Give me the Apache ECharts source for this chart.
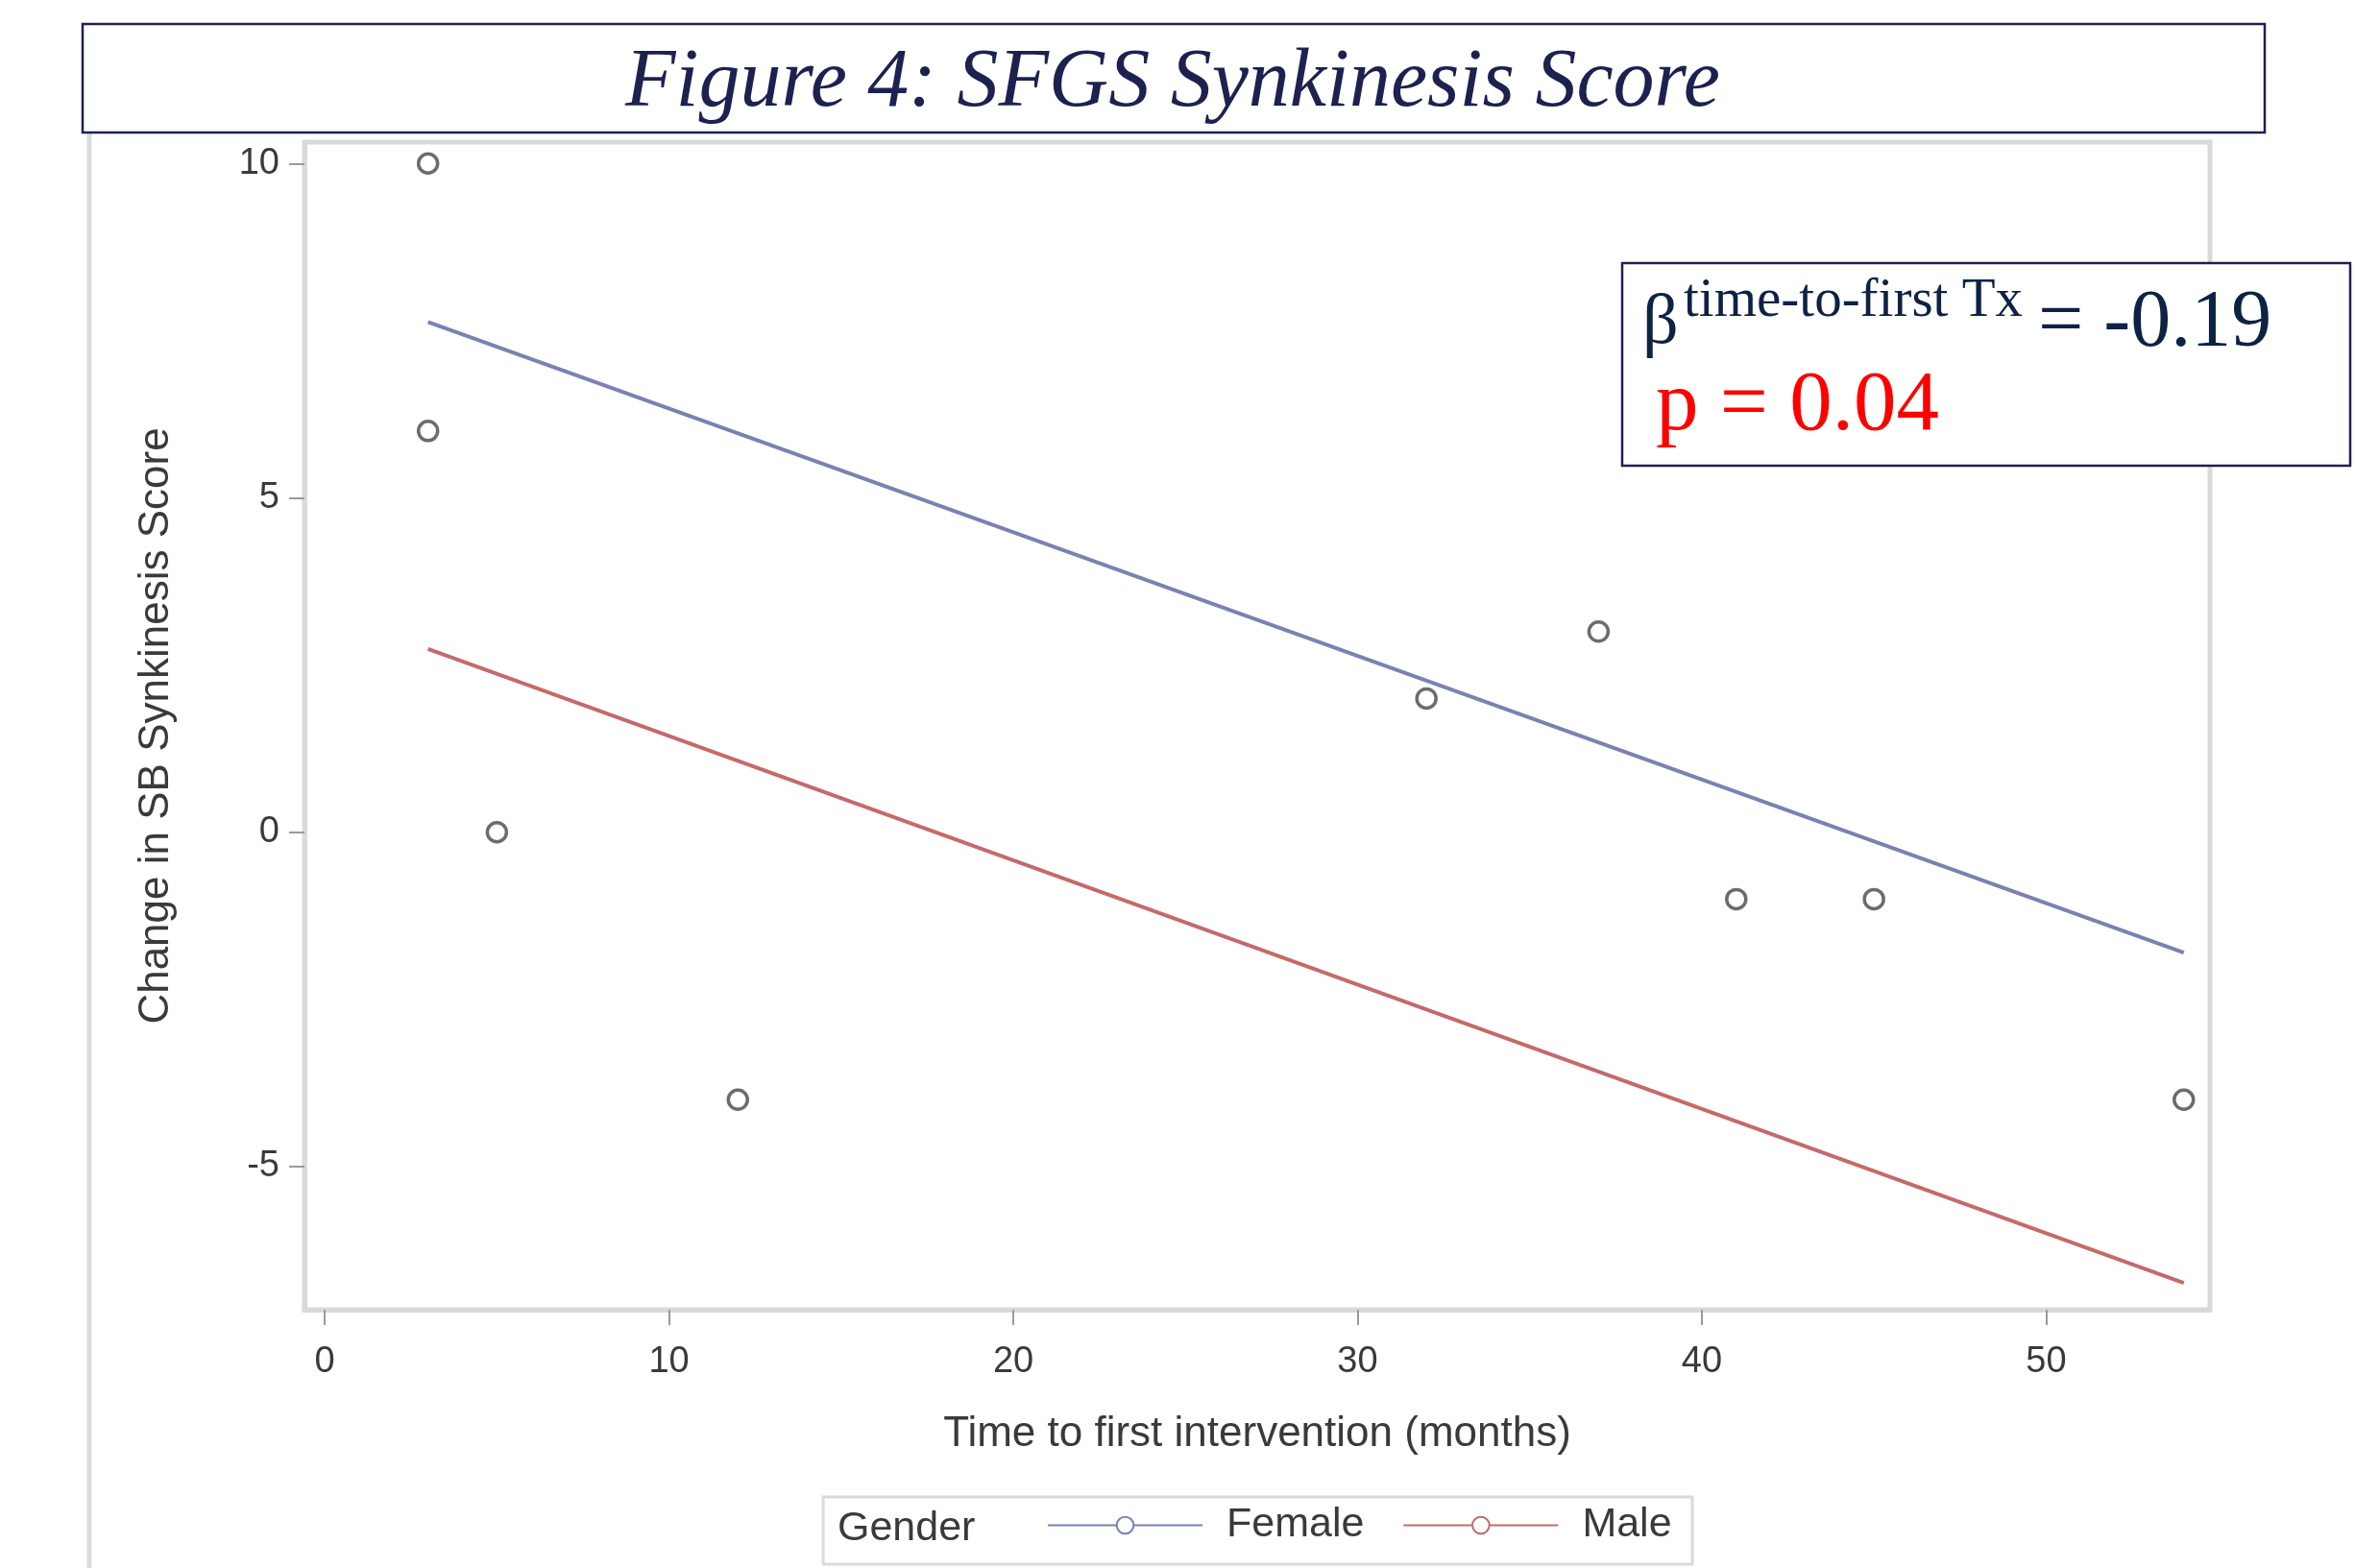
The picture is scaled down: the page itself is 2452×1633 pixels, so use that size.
<!DOCTYPE html>
<html>
<head>
<meta charset="utf-8">
<script src="https://cdn.jsdelivr.net/npm/echarts@6/dist/echarts.min.js"></script>
<style>
html,body{margin:0;padding:0;background:#fff;}
#chart{width:2452px;height:1633px;}
</style>
</head>
<body>
<div id="chart"></div>
<script>
// ---- data ----
const monthsX = [3, 3, 5, 12, 32, 37, 41, 45, 54];
const scoreChange = [10, 6, 0, -4, 2, 3, -1, -1, -4];
const fitX = [3, 54];
const femaleFit = [7.63, -1.80];
const maleFit = [2.74, -6.74];
const xTicks = [0, 10, 20, 30, 40, 50];
const yTicks = [-5, 0, 5, 10];
const seriesNames = ['Female', 'Male'];
const titleText = 'Figure 4: SFGS Synkinesis Score';
const xName = 'Time to first intervention (months)';
const yName = 'Change in SB Synkinesis Score';
const legendTitle = 'Gender';
const betaSup = 'time-to-first Tx';
const betaValue = '= -0.19';
const pText = 'p = 0.04';

const points = monthsX.map((x, i) => [x, scoreChange[i]]);
const femaleLine = fitX.map((x, i) => [x, femaleFit[i]]);
const maleLine = fitX.map((x, i) => [x, maleFit[i]]);

const chart = echarts.init(document.getElementById('chart'));
const sans = 'Liberation Sans, Arial, sans-serif';
const serif = 'Liberation Serif, Times New Roman, serif';
const navy = '#1c2150';

chart.setOption({
  backgroundColor: '#ffffff',
  animation: false,
  textStyle: { fontFamily: sans },
  grid: {
    left: 317, right: 151, top: 148, bottom: 269,
    show: true, borderColor: '#d9d9d9', borderWidth: 5
  },
  xAxis: {
    type: 'value',
    min: -0.59, max: 54.76,
    name: xName,
    nameLocation: 'middle',
    nameGap: 108,
    nameTextStyle: { fontSize: 44, color: '#3a3a3a', fontFamily: sans },
    axisLine: { show: true, onZero: false, lineStyle: { color: '#d9d9d9', width: 5 } },
    axisTick: { show: true, customValues: xTicks, length: 16, lineStyle: { color: '#9a9a9a', width: 2 } },
    axisLabel: { customValues: xTicks, fontSize: 38, color: '#3a3a3a', margin: 36 },
    splitLine: { show: false }
  },
  yAxis: {
    type: 'value',
    min: -7.14, max: 10.32,
    name: yName,
    nameLocation: 'middle',
    nameGap: 132,
    nameRotate: 90,
    nameTextStyle: { fontSize: 44, color: '#3a3a3a', fontFamily: sans },
    axisLine: { show: true, onZero: false, lineStyle: { color: '#d9d9d9', width: 5 } },
    axisTick: { show: true, customValues: yTicks, length: 16, lineStyle: { color: '#9a9a9a', width: 2 } },
    axisLabel: { customValues: yTicks, fontSize: 38, color: '#3a3a3a', margin: 26 },
    splitLine: { show: false }
  },
  legend: {
    data: seriesNames,
    left: 1085, top: 1562,
    itemWidth: 161, itemHeight: 22, itemGap: 40,
    textStyle: { fontSize: 43, color: '#3a3a3a', fontFamily: sans, padding: [0, 0, 0, 20] },
    selectedMode: false
  },
  series: [
    {
      name: seriesNames[0], type: 'line', data: femaleLine,
      symbol: 'emptyCircle', showSymbol: false, symbolSize: 16,
      lineStyle: { color: '#7a82b2', width: 4 },
      itemStyle: { color: '#7a82b2' },
      z: 3
    },
    {
      name: seriesNames[1], type: 'line', data: maleLine,
      symbol: 'emptyCircle', showSymbol: false, symbolSize: 16,
      lineStyle: { color: '#c46a6a', width: 4 },
      itemStyle: { color: '#c46a6a' },
      z: 3
    },
    {
      name: 'Observed', type: 'scatter', data: points,
      symbol: 'circle', symbolSize: 20,
      itemStyle: { color: '#ffffff', borderColor: '#474747', borderWidth: 3.5 },
      z: 4
    }
  ],
  graphic: [
    // left page edge of the pasted image
    { type: 'line', shape: { x1: 93, y1: 138, x2: 93, y2: 1633 }, style: { stroke: '#dcdcdc', lineWidth: 5 }, z: 0 },
    // title box
    { type: 'rect', shape: { x: 86, y: 25, width: 2272, height: 113 }, style: { fill: '#ffffff', stroke: navy, lineWidth: 2.5 }, z: 10 },
    { type: 'text', x: 1221, y: 87, style: { text: titleText, font: 'italic 86px ' + serif, fill: navy, align: 'center', verticalAlign: 'middle' }, z: 11 },
    // annotation box
    { type: 'rect', shape: { x: 1689, y: 274, width: 758, height: 211 }, style: { fill: '#ffffff', stroke: navy, lineWidth: 2.5 }, z: 10 },
    { type: 'text', x: 1710, y: 338, style: { text: 'β', font: '74px ' + serif, fill: '#0d2244', align: 'left', verticalAlign: 'middle' }, z: 11 },
    { type: 'text', x: 1753, y: 314, style: { text: betaSup, font: '57px ' + serif, fill: '#0d2244', align: 'left', verticalAlign: 'middle' }, z: 11 },
    { type: 'text', x: 2122, y: 338, style: { text: betaValue, font: '84px ' + serif, fill: '#0d2244', align: 'left', verticalAlign: 'middle' }, z: 11 },
    { type: 'text', x: 1724, y: 424, style: { text: pText, font: '89px ' + serif, fill: '#ff0000', align: 'left', verticalAlign: 'middle' }, z: 11 },
    // legend frame and title
    { type: 'rect', shape: { x: 857, y: 1559, width: 905, height: 70 }, style: { fill: 'none', stroke: '#dadada', lineWidth: 3 }, z: 1 },
    { type: 'text', x: 872, y: 1592, style: { text: legendTitle, font: '43px ' + sans, fill: '#3a3a3a', align: 'left', verticalAlign: 'middle' }, z: 11 }
  ]
});
</script>
</body>
</html>
